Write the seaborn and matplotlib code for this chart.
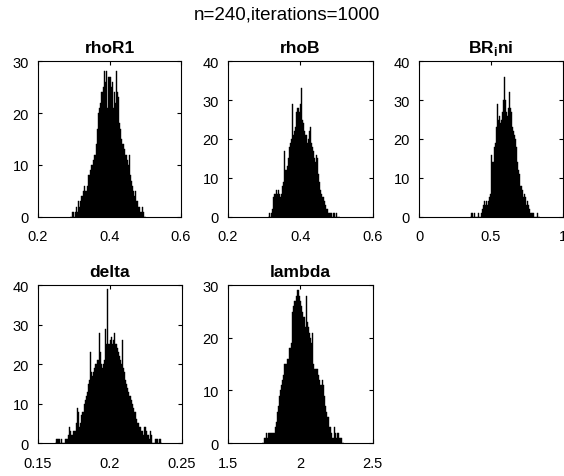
import numpy as np
import pandas as pd
import matplotlib
matplotlib.use('Agg')
import matplotlib.pyplot as plt
import seaborn as sns

# bin counts (one bin ~ one pixel column)
rhoR1_counts = [0, 0, 1, 1, 0, 1, 2, 1, 3, 2, 3, 4, 4, 5, 6, 5, 5, 6, 8, 8,
                9, 10, 10, 11, 12, 12, 14, 17, 20, 21, 22, 24, 24, 25, 28, 26, 28, 21, 27, 27,
                27, 25, 26, 21, 24, 22, 28, 24, 23, 18, 17, 15, 14, 14, 13, 12, 12, 11, 10, 12,
                8, 7, 6, 5, 4, 5, 3, 3, 2, 2, 1, 1, 2, 1, 0, 0]
rhoB_counts = [0, 1, 0, 1, 2, 5, 6, 6, 7, 6, 7, 6, 5, 6, 8, 9, 17, 12, 12, 13,
               15, 18, 19, 20, 29, 21, 22, 23, 27, 28, 28, 27, 29, 33, 25, 24, 22, 21, 21, 19,
               20, 22, 23, 19, 18, 17, 15, 14, 16, 15, 11, 9, 7, 6, 5, 5, 4, 3, 2, 2,
               1, 1, 1, 1, 0, 1, 1, 0, 1, 0, 0, 0]
BRini_counts = [0, 1, 1, 0, 1, 0, 0, 0, 1, 0, 0, 1, 2, 3, 4, 3, 4, 3, 4, 5,
                6, 16, 14, 14, 18, 19, 23, 29, 25, 26, 24, 25, 27, 30, 36, 30, 27, 26, 28, 32,
                28, 27, 23, 22, 21, 20, 18, 14, 12, 11, 8, 8, 7, 5, 6, 5, 3, 4, 3, 2,
                1, 1, 1, 1, 0, 0, 0, 1, 0, 0]
delta_counts = [0, 1, 1, 1, 1, 0, 1, 0, 0, 0, 1, 1, 1, 2, 4, 3, 2, 2, 3, 3,
                3, 5, 9, 8, 4, 5, 7, 8, 8, 10, 11, 12, 13, 15, 16, 23, 18, 17, 18, 19,
                20, 20, 21, 21, 28, 23, 20, 19, 20, 21, 29, 25, 39, 25, 25, 26, 27, 25, 26, 28,
                25, 25, 24, 23, 22, 21, 20, 26, 19, 18, 16, 15, 14, 13, 12, 12, 11, 10, 9, 8,
                8, 6, 5, 5, 4, 4, 3, 3, 2, 4, 4, 3, 2, 2, 1, 3, 2, 0, 0, 0,
                1, 1, 1, 0, 1, 1, 0]
lambda_counts = [0, 0, 1, 1, 2, 1, 2, 2, 2, 2, 2, 2, 2, 3, 4, 6, 7, 9, 10, 11,
                 12, 13, 15, 15, 15, 16, 16, 18, 18, 19, 25, 26, 27, 27, 28, 29, 29, 28, 27, 26,
                 25, 24, 24, 22, 28, 23, 22, 21, 20, 19, 21, 15, 14, 14, 14, 14, 13, 12, 11, 11,
                 12, 11, 9, 7, 6, 5, 5, 3, 3, 2, 1, 1, 3, 2, 1, 2, 2, 1, 1, 1,
                 0, 0]

# bin range (first edge, last edge) of each histogram
rhoR1_range = [0.2895, 0.5021]
rhoB_range = [0.3103, 0.5090]
BRini_range = [0.354, 0.840]
delta_range = [0.1618, 0.2361]
lambda_range = [1.7345, 2.300]

titles = ['rhoR1', 'rhoB', r'BR$_\mathbf{i}$ni', 'delta', 'lambda']
x_ticks = [[0.2, 0.4, 0.6], [0.2, 0.4, 0.6], [0, 0.5, 1], [0.15, 0.2, 0.25], [1.5, 2, 2.5]]
x_labels = [['0.2', '0.4', '0.6'], ['0.2', '0.4', '0.6'], ['0', '0.5', '1'],
            ['0.15', '0.2', '0.25'], ['1.5', '2', '2.5']]
y_max = [30, 40, 40, 40, 30]

sns.set_style('ticks')
plt.rcParams['font.family'] = ['Liberation Sans', 'DejaVu Sans']
plt.rcParams.update({
    'mathtext.fontset': 'custom',
    'mathtext.rm': 'Liberation Sans',
    'mathtext.bf': 'Liberation Sans:bold',
    'axes.edgecolor': 'black',
    'axes.linewidth': 0.8,
    'xtick.color': 'black',
    'ytick.color': 'black',
    'xtick.direction': 'in',
    'ytick.direction': 'in',
    'xtick.top': True,
    'ytick.right': True,
    'xtick.major.size': 3,
    'ytick.major.size': 3,
    'xtick.major.width': 0.8,
    'ytick.major.width': 0.8,
    'xtick.major.pad': 9,
    'ytick.major.pad': 6.5,
    'text.color': 'black',
})

counts_all = [rhoR1_counts, rhoB_counts, BRini_counts, delta_counts, lambda_counts]
ranges_all = [rhoR1_range, rhoB_range, BRini_range, delta_range, lambda_range]

# axes rectangles in figure fractions (MATLAB subplot 2x3 layout)
rects = [
    [0.0674, 0.543, 0.2535, 0.327],
    [0.404, 0.543, 0.257, 0.327],
    [0.743, 0.543, 0.255, 0.327],
    [0.0674, 0.069, 0.2553, 0.331],
    [0.404, 0.069, 0.257, 0.331],
]

fig = plt.figure(figsize=(5.64, 4.77), dpi=100)

for i in range(5):
    ax = fig.add_axes(rects[i])
    counts = np.array(counts_all[i], dtype=float)
    lo, hi = ranges_all[i]
    edges = np.linspace(lo, hi, len(counts) + 1)
    df = pd.DataFrame({'x': (edges[:-1] + edges[1:]) / 2, 'w': counts})
    sns.histplot(data=df, x='x', weights='w', bins=len(counts), binrange=(lo, hi), ax=ax,
                 color='black', edgecolor='black', linewidth=0.3, alpha=1)
    ax.set_xlim(x_ticks[i][0], x_ticks[i][-1])
    ax.set_ylim(0, y_max[i])
    ax.set_xticks(x_ticks[i])
    ax.set_xticklabels(x_labels[i], fontsize=10.5)
    ax.set_yticks(np.arange(0, y_max[i] + 1, 10))
    ax.tick_params(axis='y', labelsize=10.5)
    ax.set_xlabel('')
    ax.set_ylabel('')
    ax.set_title(titles[i], fontsize=12.5, fontweight='bold', pad=6.5)
    for s in ax.spines.values():
        s.set_visible(True)

fig.text(0.509, 1 - 14.5 / 477, 'n=240,iterations=1000', ha='center', va='center', fontsize=13.5)

fig.savefig('out.png', dpi=100)
